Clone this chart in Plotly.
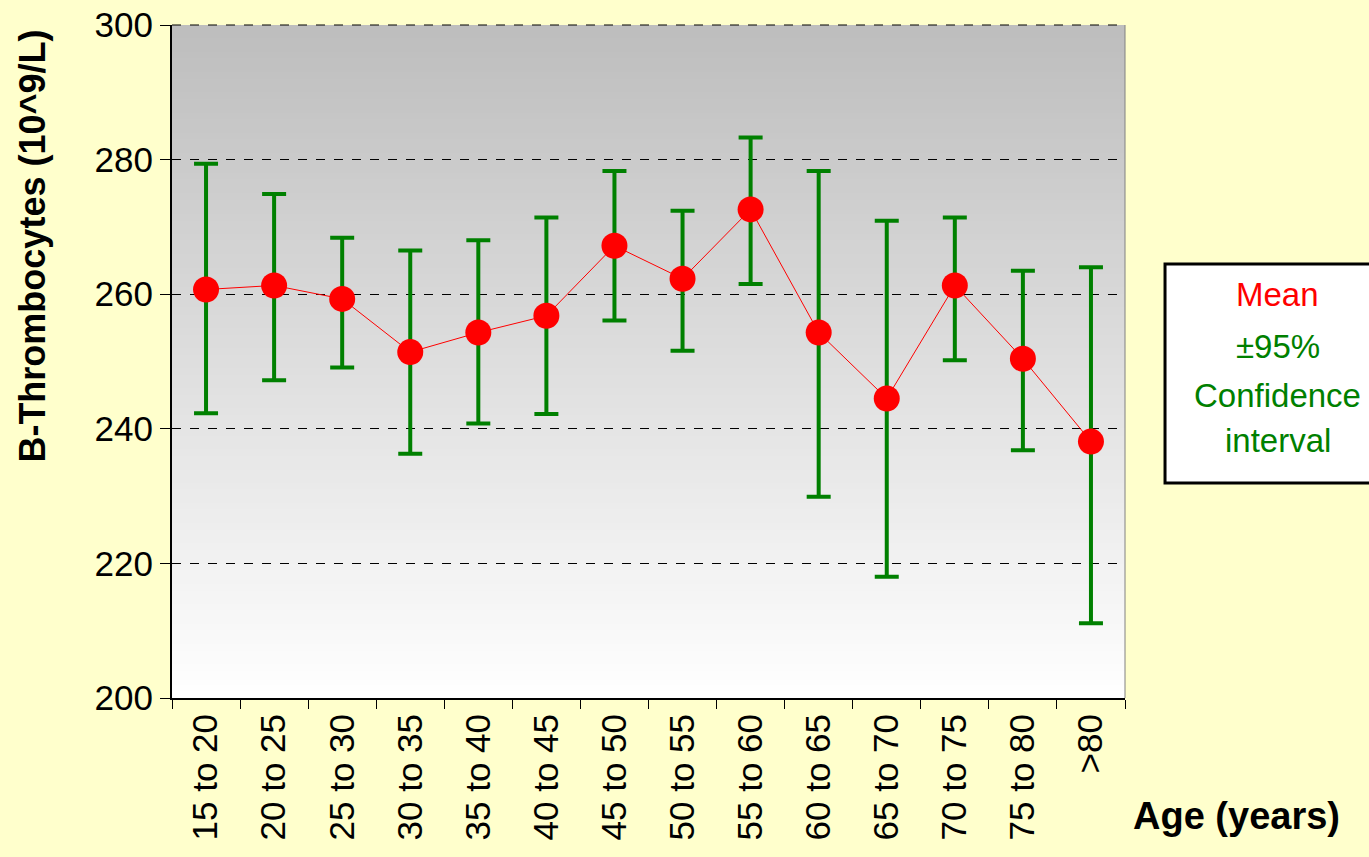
import plotly.graph_objects as go

# age groups and platelet counts (10^9/L)
age_groups = ["15 to 20", "20 to 25", "25 to 30", "30 to 35", "35 to 40", "40 to 45", "45 to 50",
              "50 to 55", "55 to 60", "60 to 65", "65 to 70", "70 to 75", "75 to 80", ">80"]
mean_vals = [260.7, 261.3, 259.3, 251.4, 254.3, 256.8, 267.2, 262.3, 272.6, 254.3, 244.5, 261.3, 250.4, 238.1]
ci_upper = [279.4, 274.9, 268.4, 266.5, 268.0, 271.4, 278.3, 272.4, 283.3, 278.3, 270.9, 271.4, 263.5, 264.0]
ci_lower = [242.3, 247.2, 249.1, 236.3, 240.8, 242.2, 256.1, 251.6, 261.5, 229.9, 218.0, 250.2, 236.8, 211.1]

y_ticks = [200, 220, 240, 260, 280, 300]

err_plus = [u - m for u, m in zip(ci_upper, mean_vals)]
err_minus = [m - l for m, l in zip(mean_vals, ci_lower)]

FONT = "Liberation Sans, Arial, sans-serif"
GREEN = "#008000"

fig = go.Figure()
fig.add_trace(go.Scatter(
    x=age_groups, y=mean_vals, mode="lines+markers",
    line=dict(color="red", width=1),
    marker=dict(color="red", size=26),
    error_y=dict(type="data", symmetric=False, array=err_plus, arrayminus=err_minus,
                 color=GREEN, thickness=4, width=12),
    showlegend=False,
))

# grey -> white vertical gradient behind the plot (stripes overlap a bit to hide seams)
shapes = []
n = 100
for i in range(n):
    t = i / (n - 1)
    c = int(190 + (255 - 190) * t)
    shapes.append(dict(type="rect", xref="x domain", yref="y domain",
                       x0=0, x1=1, y0=max(0, 1 - (i + 1.6) / n), y1=1 - i / n,
                       fillcolor=f"rgb({c},{c},{c})", line=dict(width=0), layer="below"))
# dashed line at the top (300) and right border of the plot area
shapes.append(dict(type="line", xref="x domain", yref="y domain", x0=0, x1=1, y0=1, y1=1,
                   line=dict(color="black", width=1, dash="dash")))
shapes.append(dict(type="line", xref="x domain", yref="y domain", x0=1, x1=1, y0=0, y1=1,
                   line=dict(color="#808080", width=1)))
# legend box
shapes.append(dict(type="rect", xref="paper", yref="paper", x0=1.042, x1=1.27, y0=0.3195, y1=0.645,
                   fillcolor="white", line=dict(color="black", width=3)))
fig.update_layout(shapes=shapes)

legend_lines = [("Mean", "red", 0.599), ("±95%", GREEN, 0.523),
                ("Confidence", GREEN, 0.449), ("interval", GREEN, 0.382)]
for txt, col, yy in legend_lines:
    fig.add_annotation(text=txt, x=1.1605, y=yy, xref="paper", yref="paper",
                       showarrow=False, xanchor="center", yanchor="middle",
                       font=dict(family=FONT, size=33, color=col))

fig.add_annotation(text="<b>Age (years)</b>", x=1.1175, y=-0.176, xref="paper", yref="paper",
                   showarrow=False, xanchor="center", yanchor="middle",
                   font=dict(family=FONT, size=38, color="black"))
fig.add_annotation(text="<b>B-Thrombocytes (10^9/L)</b>", x=-0.146, y=0.672, xref="paper", yref="paper",
                   showarrow=False, xanchor="center", yanchor="middle", textangle=-90,
                   font=dict(family=FONT, size=36, color="black"))

fig.update_xaxes(
    type="category", range=[-0.5, len(age_groups) - 0.5],
    tickson="boundaries", ticks="outside", ticklen=9, tickcolor="black",
    tickangle=-90, showline=True, linecolor="black", linewidth=2, showgrid=False,
    tickfont=dict(family=FONT, size=35, color="black"), automargin=False,
)
fig.update_yaxes(
    range=[200, 300], tickvals=y_ticks, ticks="outside", ticklen=10, tickcolor="black",
    showline=True, linecolor="black", linewidth=2,
    showgrid=True, gridcolor="black", gridwidth=1, griddash="dash",
    tickfont=dict(family=FONT, size=35, color="black"), zeroline=False, automargin=False,
)
fig.update_layout(
    width=1369, height=857,
    margin=dict(l=172, r=244, t=25, b=159, autoexpand=False),
    paper_bgcolor="#FFFFCC", plot_bgcolor="white",
    font=dict(family=FONT),
)

# drop the default page margin so the figure sits at the top-left corner
fig.write_html("out.html", config={"displayModeBar": False},
               post_script="document.body.style.margin='0';")
